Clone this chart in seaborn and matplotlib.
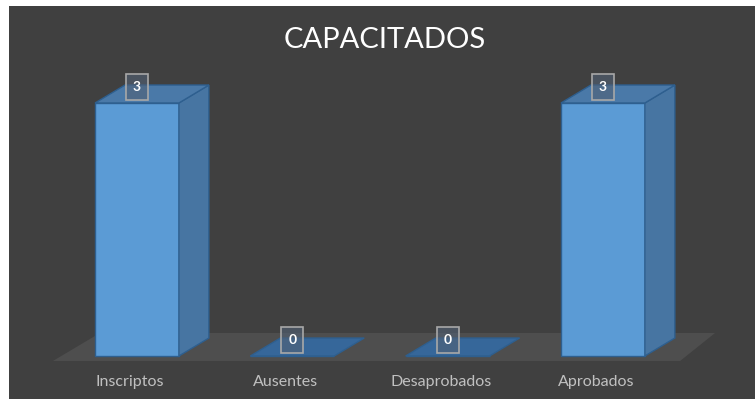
import matplotlib
matplotlib.use("Agg")
import matplotlib.pyplot as plt
from matplotlib.patches import Polygon
import seaborn as sns

sns.set_theme(style="dark")
plt.rcParams['font.family'] = ['Lato', 'DejaVu Sans']

# data
categories = ['Inscriptos', 'Ausentes', 'Desaprobados', 'Aprobados']
values = [3, 0, 0, 3]
title = 'CAPACITADOS'

bg = '#404040'
front = '#5b9bd5'
side = '#4775a2'
top = '#4a79a8'
edge = '#2e5f8f'

fig = plt.figure(figsize=(7.55, 3.99), dpi=100, facecolor='white')
ax = fig.add_axes([9 / 755, 0, 746 / 755, 393 / 399])
ax.set_facecolor(bg)

sns.barplot(x=categories, y=values, width=0.54, color=front, saturation=1,
            edgecolor=edge, linewidth=1, ax=ax, zorder=2)

# depth of the fake 3d boxes (data units)
dx, dy = 0.193, 0.213

# floor
floor = Polygon([(-0.541, -0.059), (3.497, -0.059), (3.722, 0.273), (-0.238, 0.273)],
                closed=True, facecolor='#4e4e4e', edgecolor='none', zorder=0.5)
ax.add_patch(floor)

for p in list(ax.patches):
    if p is floor:
        continue
    x0 = p.get_x()
    x1 = x0 + p.get_width()
    h = p.get_height()
    if h > 0:
        ax.add_patch(Polygon([(x1, 0), (x1, h), (x1 + dx, h + dy), (x1 + dx, dy)],
                             closed=True, facecolor=side, edgecolor=edge, lw=1, zorder=2))
        topc = top
    else:
        topc = '#36679a'
    ax.add_patch(Polygon([(x0, h), (x1, h), (x1 + dx, h + dy), (x0 + dx, h + dy)],
                         closed=True, facecolor=topc, edgecolor=edge, lw=1, zorder=2))

# value labels
for i, v in enumerate(values):
    ax.text(i, v + 0.19, str(v), ha='center', va='center', color='white',
            fontsize=10, fontweight='bold', zorder=4,
            bbox=dict(boxstyle='square,pad=0.5', facecolor=(0.32, 0.38, 0.46, 0.6),
                      edgecolor='#a8a8a8', lw=1.2))

# category labels
for i, c in enumerate(categories):
    ax.text(i - 0.045, -0.31, c, ha='center', va='center', color='#c0c0c0', fontsize=11.5)

ax.set_xlim(-0.824, 3.979)
ax.set_ylim(-0.51, 4.15)
ax.set_xticks([])
ax.set_yticks([])
ax.set_xlabel('')
ax.set_ylabel('')
for s in ax.spines.values():
    s.set_visible(False)

fig.text(385 / 755, 1 - 40 / 399, title, ha='center', va='center', color='white', fontsize=21)

fig.savefig('out.png', dpi=100, facecolor='white')
